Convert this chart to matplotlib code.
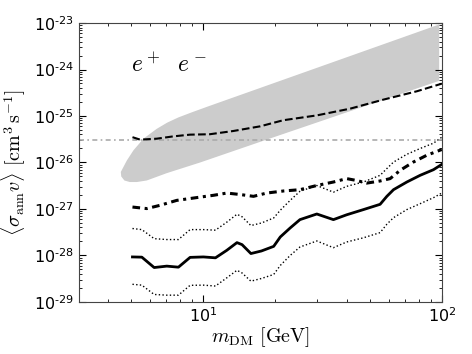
import numpy as np
import matplotlib
matplotlib.use('Agg')
import matplotlib.pyplot as plt
from matplotlib.ticker import FuncFormatter, FixedLocator

# masses [GeV] and limits [cm^3 s^-1]
m_lim = [5.08, 5.56, 6.26, 7.07, 7.91, 8.85, 10.06, 11.3, 12.6, 13.9, 14.6, 15.9,
         17.6, 19.8, 21.1, 23.2, 25.5, 30.0, 35.2, 40.0, 47.0, 55.2, 58.9, 62.8,
         71.4, 81.2, 92.3, 100.0]
lim_median = [9.3e-29, 9.2e-29, 5.5e-29, 5.9e-29, 5.6e-29, 9.1e-29, 9.3e-29, 8.9e-29,
              1.29e-28, 1.89e-28, 1.71e-28, 1.1e-28, 1.25e-28, 1.57e-28, 2.5e-28,
              3.9e-28, 5.9e-28, 7.8e-28, 5.9e-28, 7.5e-28, 9.7e-28, 1.26e-27,
              1.87e-27, 2.6e-27, 3.8e-27, 5.3e-27, 7.0e-27, 9.1e-27]
lim_upper = [3.8e-28, 3.6e-28, 2.3e-28, 2.2e-28, 2.2e-28, 3.6e-28, 3.6e-28, 3.5e-28,
             5.2e-28, 7.7e-28, 6.8e-28, 4.4e-28, 5.0e-28, 6.4e-28, 9.4e-28,
             1.53e-27, 2.4e-27, 3.2e-27, 2.3e-27, 3.07e-27, 3.8e-27, 5.3e-27,
             7.4e-27, 1.02e-26, 1.5e-26, 2.0e-26, 2.6e-26, 3.5e-26]
lim_lower = [2.4e-29, 2.3e-29, 1.45e-29, 1.4e-29, 1.4e-29, 2.28e-29, 2.3e-29, 2.2e-29,
             3.3e-29, 4.8e-29, 4.2e-29, 2.8e-29, 3.2e-29, 3.9e-29, 6.1e-29,
             1.0e-28, 1.52e-28, 2.05e-28, 1.47e-28, 1.95e-28, 2.4e-28, 3.1e-28,
             4.7e-28, 6.5e-28, 9.7e-28, 1.3e-27, 1.75e-27, 2.2e-27]

m_dd = [5.08, 5.83, 6.63, 7.78, 9.75, 11.1, 12.6, 14.3, 16.3, 18.5, 21.8, 25.5,
        30.0, 35.2, 40.0, 44.0, 48.5, 55.2, 60.8, 67.0, 76.0, 86.5, 100.0]
lim_dd = [1.1e-27, 1.02e-27, 1.2e-27, 1.53e-27, 1.8e-27, 1.97e-27, 2.2e-27, 2.05e-27,
          1.87e-27, 2.2e-27, 2.44e-27, 2.6e-27, 3.2e-27, 3.8e-27, 4.5e-27, 4.1e-27,
          3.6e-27, 4.0e-27, 4.5e-27, 6.8e-27, 1.02e-26, 1.43e-26, 1.9e-26]

m_dash = [5.08, 5.47, 6.42, 7.54, 8.85, 10.7, 13.4, 17.4, 21.7, 30.0, 41.4, 57.0, 78.6, 100.0]
lim_dash = [3.5e-26, 3.1e-26, 3.25e-26, 3.65e-26, 3.97e-26, 4.05e-26, 4.75e-26,
            6.0e-26, 8.1e-26, 1.03e-25, 1.44e-25, 2.25e-25, 3.4e-25, 4.96e-25]

thermal = 3.0e-26

# grey region: upper edge left->right, lower edge right->left
band_x = [4.54, 4.81, 5.13, 5.65, 6.42, 7.1, 7.9, 9.0, 10.5, 97.5,
          97.5, 18.5, 9.75, 7.07, 5.83, 5.3, 4.95, 4.7, 4.56]
band_y = [6.25e-27, 1.1e-26, 1.83e-26, 3.26e-26, 5.3e-26, 7.2e-26, 9.3e-26, 1.2e-25, 1.6e-25, 9.3e-24,
          5.7e-25, 3.1e-26, 1.0e-26, 5.9e-27, 4.1e-27, 3.8e-27, 3.8e-27, 4.1e-27, 5.0e-27]

xticks = [10, 100]
yticks = [1e-29, 1e-28, 1e-27, 1e-26, 1e-25, 1e-24, 1e-23]


def log_label(v, pos):
    e = int(round(np.log10(v)))
    return r'$10^{\text{%d}}$' % e


fig, ax = plt.subplots(figsize=(4.72, 3.54), dpi=100)
fig.subplots_adjust(left=0.167, right=0.936, top=0.935, bottom=0.147)

ax.fill(band_x, band_y, color='#cccccc', lw=0, zorder=1)
ax.axhline(thermal, color='#aaaaaa', ls=(0, (3, 2, 1, 2)), lw=1.2, zorder=2)
ax.plot(m_dash, lim_dash, 'k--', lw=1.5, zorder=3)
ax.plot(m_dd, lim_dd, color='k', ls=(0, (2.5, 1.5, 1, 1.5)), lw=2.2, zorder=3)
ax.plot(m_lim, lim_upper, 'k:', lw=1.0, zorder=3)
ax.plot(m_lim, lim_lower, 'k:', lw=1.0, zorder=3)
ax.plot(m_lim, lim_median, 'k-', lw=2.0, zorder=3)

ax.set_xscale('log')
ax.set_yscale('log')
ax.set_xlim(3.03, 100)
ax.set_ylim(1e-29, 1e-23)
ax.xaxis.set_major_locator(FixedLocator(xticks))
ax.yaxis.set_major_locator(FixedLocator(yticks))
ax.xaxis.set_major_formatter(FuncFormatter(log_label))
ax.yaxis.set_major_formatter(FuncFormatter(log_label))
ax.tick_params(which='both', direction='in', top=True, right=True, labelsize=11.5)
ax.tick_params(which='major', length=5)
ax.tick_params(which='minor', length=2.5)
ax.tick_params(axis='x', pad=3)
for s in ax.spines.values():
    s.set_color('#444444')

ax.text(0.145, 0.85, r'$e^+\ \ e^-$', transform=ax.transAxes, fontsize=17,
        math_fontfamily='cm', va='center')
ax.set_xlabel(r'$m_{\rm DM}\ [{\rm GeV}]$', fontsize=14.5, math_fontfamily='cm', labelpad=0)
ax.set_ylabel(r'$\langle\sigma_{\rm ann}v\rangle\ [{\rm cm}^3\,{\rm s}^{-1}]$', fontsize=14.5,
              math_fontfamily='cm', labelpad=4)

fig.savefig('out.png', dpi=100)
